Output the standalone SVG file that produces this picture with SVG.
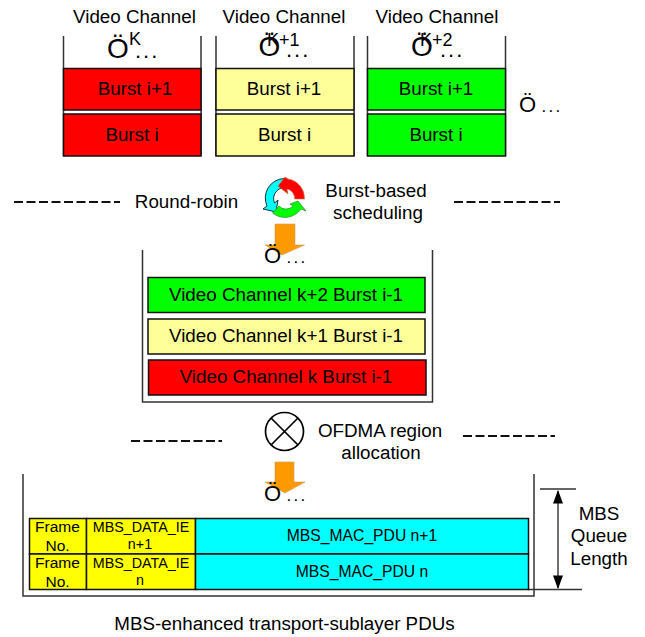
<svg xmlns="http://www.w3.org/2000/svg" width="645" height="637" viewBox="0 0 645 637">
<style>
text{font-family:"Liberation Sans",Arial,sans-serif;fill:#000;text-anchor:middle}
.t19{font-size:18.800px}
.mac{font-size:15.700px}
.ie{font-size:14.300px}
.fr{font-size:15.500px}
.box{stroke:#111;stroke-width:1.5}
.wall{fill:none;stroke:#333;stroke-width:1.5}
.dash{fill:none;stroke:#111;stroke-width:2;stroke-dasharray:9 3.500}
.o{font-size:28px;text-anchor:start}
.o2{font-size:22px;text-anchor:start}
.dots{font-size:22px;letter-spacing:2px;text-anchor:start}
.dots2{font-size:17px;letter-spacing:2.300px;text-anchor:start}
.sup{font-size:18px;text-anchor:start}
.thin{fill:none;stroke:#333;stroke-width:1.300}
.arrow{fill:#f90;stroke:#c8a060;stroke-width:.6}
</style>
<g id="connectors">
<path class="dash" d="M14 202H120"/>
<path class="dash" d="M454 202H560"/>
<path class="dash" d="M131 441H222"/>
<path class="dash" d="M463 436H555"/>
<path class="thin" d="M540 489H576"/>
<path class="thin" d="M528 589.500H582"/>
<path d="M558 491V588" fill="none" stroke="#222" stroke-width="1.300"/>
<path d="M558 490L563 503.500H553Z" fill="#000"/>
<path d="M558 589L563 575.500H553Z" fill="#000"/>
<path class="arrow" d="M275 224H295V245H304.500L282 255L265 245H275Z"/>
<path class="arrow" d="M275 462H294V482H305L285 493L265 482H275Z"/>
</g>
<g id="channel-k">
<text class="t19" x="134.500" y="23">Video Channel</text>
<path class="wall" d="M63.500 36V156"/><path class="wall" d="M201 36V156"/>
<rect class="box" x="63.500" y="68.500" width="137.500" height="41.500" fill="#f00"/>
<rect class="box" x="63.500" y="114" width="137.500" height="42" fill="#f00"/>
<text class="o" x="107" y="58">Ö</text><text class="sup" x="129" y="45">K</text><text class="dots" x="135" y="58">...</text>
<text class="t19" x="135" y="95">Burst i+1</text>
<text class="t19" x="132" y="141">Burst i</text>
</g>
<g id="channel-k1">
<text class="t19" x="284" y="23">Video Channel</text>
<path class="wall" d="M216 36V156"/><path class="wall" d="M354 36V156"/>
<rect class="box" x="216" y="68.500" width="138" height="41.500" fill="#ff9"/>
<rect class="box" x="216" y="114" width="138" height="42" fill="#ff9"/>
<text class="o" x="258.500" y="56">Ö</text><text class="sup" x="267" y="46">K+1</text><text class="dots" x="286" y="57">...</text>
<text class="t19" x="284" y="95">Burst i+1</text>
<text class="t19" x="284.500" y="141">Burst i</text>
</g>
<g id="channel-k2">
<text class="t19" x="437" y="23">Video Channel</text>
<path class="wall" d="M367.500 36V156"/><path class="wall" d="M505.500 36V156"/>
<rect class="box" x="367.500" y="68.500" width="138" height="41.500" fill="#0f0"/>
<rect class="box" x="367.500" y="114" width="138" height="42" fill="#0f0"/>
<text class="o" x="411" y="56">Ö</text><text class="sup" x="420" y="46">K+2</text><text class="dots" x="440" y="57">...</text>
<text class="t19" x="436" y="95">Burst i+1</text>
<text class="t19" x="436" y="141">Burst i</text>
</g>
<g id="more-channels"><text class="o2" x="519" y="112">Ö</text><text class="dots2" x="541.500" y="112">...</text></g>
<g id="round-robin"><text class="t19" x="186.500" y="208">Round-robin</text></g>
<g id="scheduler">
<path d="M284 178.500A19.500 19.500 0 0 0 267 206L263 209L276 212L278 200L274.500 203A11 11 0 0 1 282 188Z" fill="#0ff" stroke="#000" stroke-width=".8"/>
<path d="M272.500 213L279 206A9.500 9.500 0 0 0 293 206L290 204L298 201L306 211L301 209A19.500 19.500 0 0 1 272.500 213Z" fill="#0f0" stroke="#208020" stroke-width=".6"/>
<path d="M278 186L285 177L288 179A19.500 19.500 0 0 1 304.500 199L294.500 199A9.500 9.500 0 0 0 287 189L288 194Z" fill="#f00" stroke="#c08040" stroke-width=".6"/>
</g>
<g id="burst-based"><text class="t19" x="376" y="197">Burst-based</text><text class="t19" x="378" y="219">scheduling</text></g>
<g id="merged-queue">
<path class="wall" d="M142.500 250V402H432.500V250"/>
<text class="o2" x="264" y="263">Ö</text><text class="dots2" x="286.500" y="263">...</text>
</g>
<g id="merged-k2"><rect class="box" x="148" y="277.500" width="277" height="35" fill="#0f0"/><text class="t19" x="286" y="301">Video Channel k+2 Burst i-1</text></g>
<g id="merged-k1"><rect class="box" x="148" y="319" width="277" height="35" fill="#ff9"/><text class="t19" x="286" y="342">Video Channel k+1 Burst i-1</text></g>
<g id="merged-k"><rect class="box" x="148.500" y="360" width="277.500" height="35" fill="#f00"/><text class="t19" x="286" y="383">Video Channel k Burst i-1</text></g>
<g id="ofdma-symbol">
<circle cx="284.500" cy="431.500" r="19" fill="#fff" stroke="#000" stroke-width="1.700"/>
<path d="M271 418L298 445M298 418L271 445" stroke="#000" stroke-width="1.700"/>
</g>
<g id="ofdma-label"><text class="t19" x="380" y="437">OFDMA region</text><text class="t19" x="381" y="459">allocation</text></g>
<g id="mbs-queue">
<path class="wall" d="M23 474V596H534V474"/>
<text class="o2" x="264" y="501">Ö</text><text class="dots2" x="286.500" y="501">...</text>
</g>
<g id="pdu-top">
<rect class="box" x="29.500" y="518.500" width="57" height="35.500" fill="#ff0"/><text class="fr" x="57.500" y="532">Frame</text><text class="fr" x="57.500" y="551">No.</text>
<rect class="box" x="86.500" y="518.500" width="109" height="35.500" fill="#ff0"/><text class="ie" x="141" y="532">MBS_DATA_IE</text><text class="ie" x="140" y="549">n+1</text>
<rect class="box" x="195.500" y="518.500" width="333" height="35.500" fill="#0ff"/><text class="mac" x="362" y="541">MBS_MAC_PDU n+1</text>
</g>
<g id="pdu-bottom">
<rect class="box" x="29.500" y="554" width="57" height="35.500" fill="#ff0"/><text class="fr" x="57.500" y="568">Frame</text><text class="fr" x="57.500" y="587">No.</text>
<rect class="box" x="86.500" y="554" width="109" height="35.500" fill="#ff0"/><text class="ie" x="141" y="568">MBS_DATA_IE</text><text class="ie" x="140" y="585">n</text>
<rect class="box" x="195.500" y="554" width="333" height="35.500" fill="#0ff"/><text class="mac" x="362" y="577">MBS_MAC_PDU n</text>
</g>
<g id="queue-length"><text class="t19" x="599" y="520">MBS</text><text class="t19" x="599" y="542">Queue</text><text class="t19" x="599" y="565">Length</text></g>
<g id="caption"><text class="t19" x="284.500" y="630">MBS-enhanced transport-sublayer PDUs</text></g>
</svg>
